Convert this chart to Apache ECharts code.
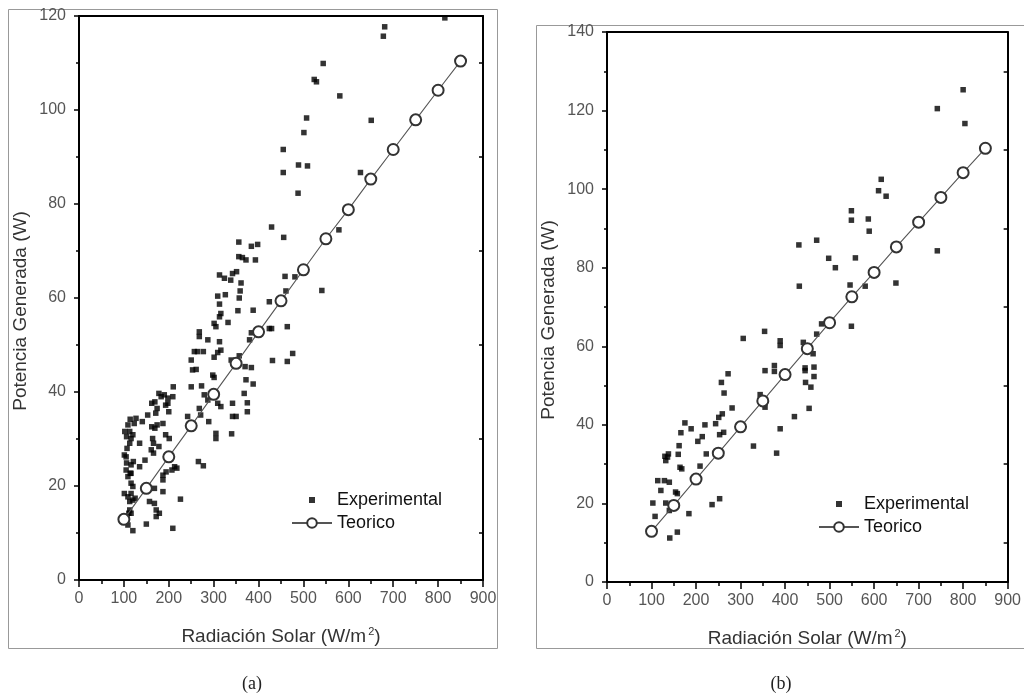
<!DOCTYPE html>
<html>
<head>
<meta charset="utf-8">
<script src="https://cdn.jsdelivr.net/npm/echarts@6/dist/echarts.min.js"></script>
<style>
  html, body { margin: 0; padding: 0; background: #fff; }
  #chart { width: 1024px; height: 694px; }
</style>
</head>
<body>
<div id="chart"></div>
<script>
// Panel (a): measured power vs. solar irradiance [W/m², W]
const experimentalA = [
  [815,119.6],[681,117.7],[678,115.7],[544,109.9],[524,106.5],[529,106],[581,103],[507,98.3],
  [651,97.8],[501,95.2],[455,91.6],[489,88.3],[509,88.1],[455,86.7],[627,86.7],[488,82.3],
  [429,75.1],[579,74.5],[456,72.9],[356,71.9],[398,71.4],[384,71],[356,68.8],[364,68.6],
  [372,68.1],[393,68.1],[459,64.6],[481,64.5],[313,64.9],[324,64.2],[342,65.2],[351,65.6],
  [338,63.8],[541,61.6],[361,63.2],[461,61.5],[309,60.4],[326,60.7],[357,60],[359,61.5],
  [313,58.7],[424,59.2],[354,57.3],[388,57.4],[316,56.7],[313,56],[305,53.9],[301,54.6],
  [332,54.8],[268,52.8],[268,51.8],[287,51.1],[313,50.7],[316,48.9],[309,48.4],[380,51.1],
  [384,52.6],[424,53.5],[429,53.5],[464,53.9],[301,47.4],[257,48.6],[264,48.6],[277,48.6],
  [339,46.8],[357,47.7],[370,45.4],[384,45.2],[431,46.7],[464,46.5],[476,48.2],[250,46.8],
  [253,44.7],[261,44.8],[298,43.6],[301,43.1],[250,41.1],[273,41.3],[210,41.1],[372,42.6],
  [368,39.7],[375,37.7],[375,35.8],[388,41.7],[279,39.4],[287,38.3],[309,37.6],[316,36.9],
  [342,37.6],[342,34.8],[350,34.8],[268,36.5],[271,35.1],[289,33.7],[242,34.8],[305,31.2],
  [305,30.1],[340,31.1],[266,25.2],[277,24.3],[178,39.7],[183,39],[190,39.4],[198,38.7],
  [198,37.6],[200,35.8],[209,39],[162,37.6],[169,37.9],[174,36.5],[193,37.2],[153,35.1],
  [171,35.5],[127,34.4],[123,33.3],[141,33.7],[162,32.6],[169,32.3],[174,33],[187,33.3],
  [113,31.6],[120,30.9],[116,30.1],[164,30.1],[166,29.1],[193,30.9],[201,30.1],[113,29.1],
  [107,28],[135,29.1],[161,27.7],[166,27],[178,28.4],[101,26.6],[105,26.2],[121,25.2],
  [116,24.5],[147,25.5],[135,24.1],[213,24.1],[218,23.8],[207,23.4],[194,23],[187,22.3],
  [105,23.4],[116,22.7],[109,22],[187,21.3],[116,20.6],[120,19.9],[101,18.4],[109,17.7],
  [116,18.4],[168,19.5],[187,18.8],[113,16.7],[120,17],[157,16.7],[168,16.3],[226,17.2],
  [113,14.9],[116,14.2],[172,14.9],[172,13.5],[179,14.2],[150,11.9],[209,11],[109,11.7],
  [120,10.5],[107,13.3],[111,14.2],[109,33],[114,34.2],[102,31.6],[106,30.5],[125,17.4],
  [106,24.9],[114,22.7]
];

// Panel (b): measured power vs. solar irradiance [W/m², W]
const experimentalB = [
  [800,125.3],[742,120.5],[804,116.7],[616,102.5],[610,99.6],[627,98.2],[549,94.5],[549,92.1],
  [587,92.4],[589,89.3],[431,85.8],[471,87],[742,84.3],[498,82.4],[558,82.5],[513,80],
  [432,75.3],[546,75.6],[580,75.3],[649,76.1],[549,65.1],[482,65.7],[471,63.1],[441,61],
  [463,58.1],[445,54.5],[445,53.8],[465,54.7],[465,52.3],[446,50.8],[458,49.6],[454,44.2],
  [421,42.1],[306,62],[354,63.8],[389,61.4],[389,60.2],[355,53.8],[376,55.1],[376,53.6],
  [344,47.7],[355,44.5],[272,53],[257,50.8],[263,48.1],[281,44.3],[251,41.9],[259,42.8],
  [244,40.3],[253,37.5],[262,38.1],[220,40],[214,37],[204,35.8],[189,39],[175,40.5],
  [166,38],[162,34.7],[160,32.5],[164,29.2],[168,28.8],[223,32.6],[209,29.5],[130,32],
  [136,31.8],[138,32.6],[132,30.9],[329,34.6],[389,39],[381,32.8],[114,25.8],[129,25.8],
  [140,25.4],[121,23.3],[154,22.9],[158,22.5],[103,20.1],[132,20.1],[108,16.7],[140,18.2],
  [184,17.4],[236,19.7],[253,21.2],[158,12.7],[141,11.2]
];

// Theoretical model, sampled every 50 W/m² (shared by both panels)
const teoricoX = [100,150,200,250,300,350,400,450,500,550,600,650,700,750,800,850];
const teoricoY = [12.9,19.5,26.2,32.8,39.5,46.1,52.8,59.4,66.0,72.6,78.8,85.3,91.6,97.9,104.2,110.4];

const xTicks = [0,100,200,300,400,500,600,700,800,900];
const yMaxA = 120;
const yMaxB = 140;

const seriesNames = ['Experimental', 'Teorico'];
const xTitle = 'Radiación Solar (W/m{sup|2})';
const yTitle = 'Potencia Generada (W)';
const captions = ['(a)', '(b)'];

const teorico = teoricoX.map((x, i) => [x, teoricoY[i]]);

const FONT = "'Liberation Sans', Arial, Helvetica, sans-serif";
const SERIF = "'Liberation Serif', 'Times New Roman', serif";

function bottomAxis(gridIndex) {
  return {
    gridIndex, type: 'value', position: 'bottom',
    min: xTicks[0], max: xTicks[xTicks.length - 1], interval: 100,
    name: xTitle, nameLocation: 'middle', nameGap: 46,
    nameTextStyle: {
      fontFamily: FONT, fontSize: 19, color: '#333',
      rich: { sup: { fontFamily: FONT, fontSize: 11, color: '#333', verticalAlign: 'top', padding: [0, 0, 10, 2] } }
    },
    axisLine: { show: true, onZero: false, lineStyle: { color: '#000', width: 2 } },
    axisTick: { show: true, length: 7, lineStyle: { color: '#000', width: 1.5 } },
    minorTick: { show: true, splitNumber: 2, length: 4, lineStyle: { color: '#000', width: 1.5 } },
    axisLabel: { margin: 11, fontFamily: FONT, fontSize: 16, color: '#555', showMinLabel: true, showMaxLabel: true, hideOverlap: false },
    splitLine: { show: false }
  };
}
function topAxis(gridIndex) {
  return {
    gridIndex, type: 'value', position: 'top',
    min: xTicks[0], max: xTicks[xTicks.length - 1], interval: 100,
    axisLine: { show: true, onZero: false, lineStyle: { color: '#000', width: 2 } },
    axisTick: { show: false }, axisLabel: { show: false }, splitLine: { show: false }
  };
}
function leftAxis(gridIndex, max, padRight) {
  return {
    gridIndex, type: 'value', position: 'left',
    min: 0, max, interval: 20,
    name: yTitle, nameLocation: 'middle', nameGap: 49,
    nameTextStyle: { fontFamily: FONT, fontSize: 19, color: '#333', padding: [0, padRight, 0, 0] },
    axisLine: { show: true, onZero: false, lineStyle: { color: '#000', width: 2 } },
    axisTick: { show: true, length: 5, lineStyle: { color: '#000', width: 1.5 } },
    minorTick: { show: true, splitNumber: 2, length: 3, lineStyle: { color: '#000', width: 1.5 } },
    axisLabel: { margin: 13, fontFamily: FONT, fontSize: 16, color: '#555', showMinLabel: true, showMaxLabel: true },
    splitLine: { show: false }
  };
}
function rightAxis(gridIndex, max) {
  return {
    gridIndex, type: 'value', position: 'right',
    min: 0, max, interval: 20,
    axisLine: { show: true, onZero: false, lineStyle: { color: '#000', width: 2 } },
    axisTick: { show: false, inside: true },
    minorTick: { show: true, splitNumber: 2, length: 4, lineStyle: { color: '#000', width: 1.5 } },
    axisLabel: { show: false }, splitLine: { show: false }
  };
}

function scatterSeries(xi, yi, data) {
  return {
    name: seriesNames[0], type: 'scatter', xAxisIndex: xi, yAxisIndex: yi,
    data, symbol: 'rect', symbolSize: 5.5,
    itemStyle: { color: '#000' }, z: 2, silent: true
  };
}
function lineSeries(xi, yi) {
  return {
    name: seriesNames[1], type: 'line', xAxisIndex: xi, yAxisIndex: yi,
    data: teorico, symbol: 'emptyCircle', symbolSize: 11, showAllSymbol: true,
    color: '#333',
    itemStyle: { color: '#333', borderColor: '#333', borderWidth: 1.3 },
    lineStyle: { color: '#555', width: 1.1 },
    z: 3, silent: true, animation: false
  };
}

// small centred square inside a 40×12 legend cell
const squareIcon = 'path://M0,0M40,12M17,3L23,3L23,9L17,9Z';

function legendFor(left, top) {
  return {
    left, top, orient: 'vertical', padding: 0, itemGap: 5,
    itemWidth: 40, itemHeight: 12, selectedMode: false,
    textStyle: { fontFamily: FONT, fontSize: 18, color: '#111' },
    data: [{ name: seriesNames[0], icon: squareIcon }, { name: seriesNames[1] }]
  };
}

const chart = echarts.init(document.getElementById('chart'), null, { renderer: 'canvas' });
chart.setOption({
  backgroundColor: '#fff',
  animation: false,
  title: [
    { text: captions[0], left: 247, top: 670, textAlign: 'center', textStyle: { fontFamily: SERIF, fontSize: 18, fontWeight: 'normal', color: '#222' } },
    { text: captions[1], left: 776, top: 670, textAlign: 'center', textStyle: { fontFamily: SERIF, fontSize: 18, fontWeight: 'normal', color: '#222' } }
  ],
  graphic: [
    { type: 'rect', shape: { x: 8.5, y: 9.5, width: 489, height: 639 }, style: { fill: 'none', stroke: '#999', lineWidth: 1 }, z: -1 },
    { type: 'rect', shape: { x: 536.5, y: 25.5, width: 500, height: 623 }, style: { fill: 'none', stroke: '#999', lineWidth: 1 }, z: -1 }
  ],
  legend: [legendFor(291, 491), legendFor(818, 495)],
  grid: [
    { left: 79, top: 16, width: 404, height: 564, containLabel: false },
    { left: 607, top: 32, width: 403, height: 550, containLabel: false }
  ],
  xAxis: [bottomAxis(0), topAxis(0), bottomAxis(1), topAxis(1)],
  yAxis: [leftAxis(0, yMaxA, 26), rightAxis(0, yMaxA), leftAxis(1, yMaxB, 26), rightAxis(1, yMaxB)],
  series: [
    scatterSeries(0, 0, experimentalA),
    lineSeries(0, 0),
    scatterSeries(2, 2, experimentalB),
    lineSeries(2, 2)
  ]
});
</script>
</body>
</html>
